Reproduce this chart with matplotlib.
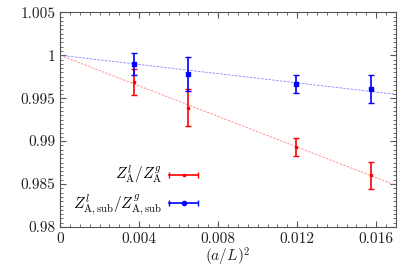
import matplotlib
matplotlib.use("Agg")
import matplotlib.pyplot as plt
import numpy as np
from matplotlib.ticker import MultipleLocator
from matplotlib.legend_handler import HandlerBase
from matplotlib.lines import Line2D

plt.rcParams['mathtext.fontset'] = 'cm'
plt.rcParams['font.family'] = 'serif'
plt.rcParams['font.serif'] = ['cmr10', 'DejaVu Serif']
plt.rcParams['axes.formatter.use_mathtext'] = True

x = [0.003735, 0.0065, 0.01194, 0.01573]
red_y = [0.99688, 0.99390, 0.98929, 0.98602]
red_err = [0.00148, 0.00215, 0.00107, 0.00157]
blue_y = [0.99903, 0.99778, 0.99669, 0.99606]
blue_err = [0.00128, 0.00197, 0.00105, 0.00163]
red_slope = -0.891
blue_slope = -0.268

xticks = [0, 0.004, 0.008, 0.012, 0.016]
xticklabels = ['0', '0.004', '0.008', '0.012', '0.016']
yticks = [0.98, 0.985, 0.99, 0.995, 1.0, 1.005]
yticklabels = ['0.98', '0.985', '0.99', '0.995', '1', '1.005']


class HErrHandler(HandlerBase):
    def __init__(self, color, marker, ms):
        super().__init__()
        self.color = color
        self.marker = marker
        self.ms = ms

    def create_artists(self, legend, orig_handle, xdescent, ydescent, width, height, fontsize, trans):
        y = height / 2 - ydescent
        x0, x1 = -xdescent, -xdescent + width
        line = Line2D([x0, x1], [y, y], color=self.color, lw=1.2, transform=trans)
        caps = Line2D([x0, x1], [y, y], ls='none', marker='|', ms=4, mew=1, color=self.color, transform=trans)
        mid = Line2D([(x0 + x1) / 2], [y], ls='none', marker=self.marker, ms=self.ms, color=self.color, transform=trans)
        return [line, caps, mid]


fig = plt.figure(figsize=(4.15, 2.67), dpi=100)
ax = fig.add_axes([60/415, 1-227/267, 336/415, (227-12.3)/267])

xf = np.array([0, 0.017])
ax.plot(xf, 1 + red_slope*xf, ls=(0, (3, 1.5)), color='#ff6666', lw=0.6, alpha=0.8)
ax.plot(xf, 1 + blue_slope*xf, ls=(0, (3, 1.5)), color='#6666ff', lw=0.6, alpha=0.8)

r = ax.errorbar(x, red_y, yerr=red_err, fmt='s', color='red', ms=2, capsize=2, elinewidth=1.2, capthick=1)
b = ax.errorbar(x, blue_y, yerr=blue_err, fmt='s', color='blue', ms=3, capsize=2, elinewidth=1.2, capthick=1)

ax.set_xlim(0, 0.017)
ax.set_ylim(0.98, 1.005)
ax.set_xticks(xticks)
ax.set_xticklabels(xticklabels)
ax.set_yticks(yticks)
ax.set_yticklabels(yticklabels)
ax.xaxis.set_minor_locator(MultipleLocator(0.0005))
ax.yaxis.set_minor_locator(MultipleLocator(0.0005))
ax.tick_params(which='both', direction='in', top=True, right=True, colors='#555555', labelcolor='#222222', labelsize=11)
ax.tick_params(which='major', length=4)
ax.tick_params(which='minor', length=2)
for s in ax.spines.values():
    s.set_color('#555555')
ax.set_xlabel(r'$(a/L)^2$', fontsize=11, color='#222222', labelpad=0)

hr = Line2D([], [])
hb = Line2D([], [])
leg = ax.legend([hr, hb], [r'$Z^l_{\rm A}/Z^g_{\rm A}$', r'$Z^l_{\rm A,sub}/Z^g_{\rm A,sub}$'],
                handler_map={hr: HErrHandler('red', 's', 1.5), hb: HErrHandler('blue', 'o', 3)},
                markerfirst=False, frameon=False, loc='center',
                bbox_to_anchor=(0.225, 0.17), fontsize=11, handlelength=1.9,
                labelspacing=0.4, handletextpad=0.5)
for t in leg.get_texts():
    t.set_ha('right')

fig.savefig('out.png', dpi=100)
